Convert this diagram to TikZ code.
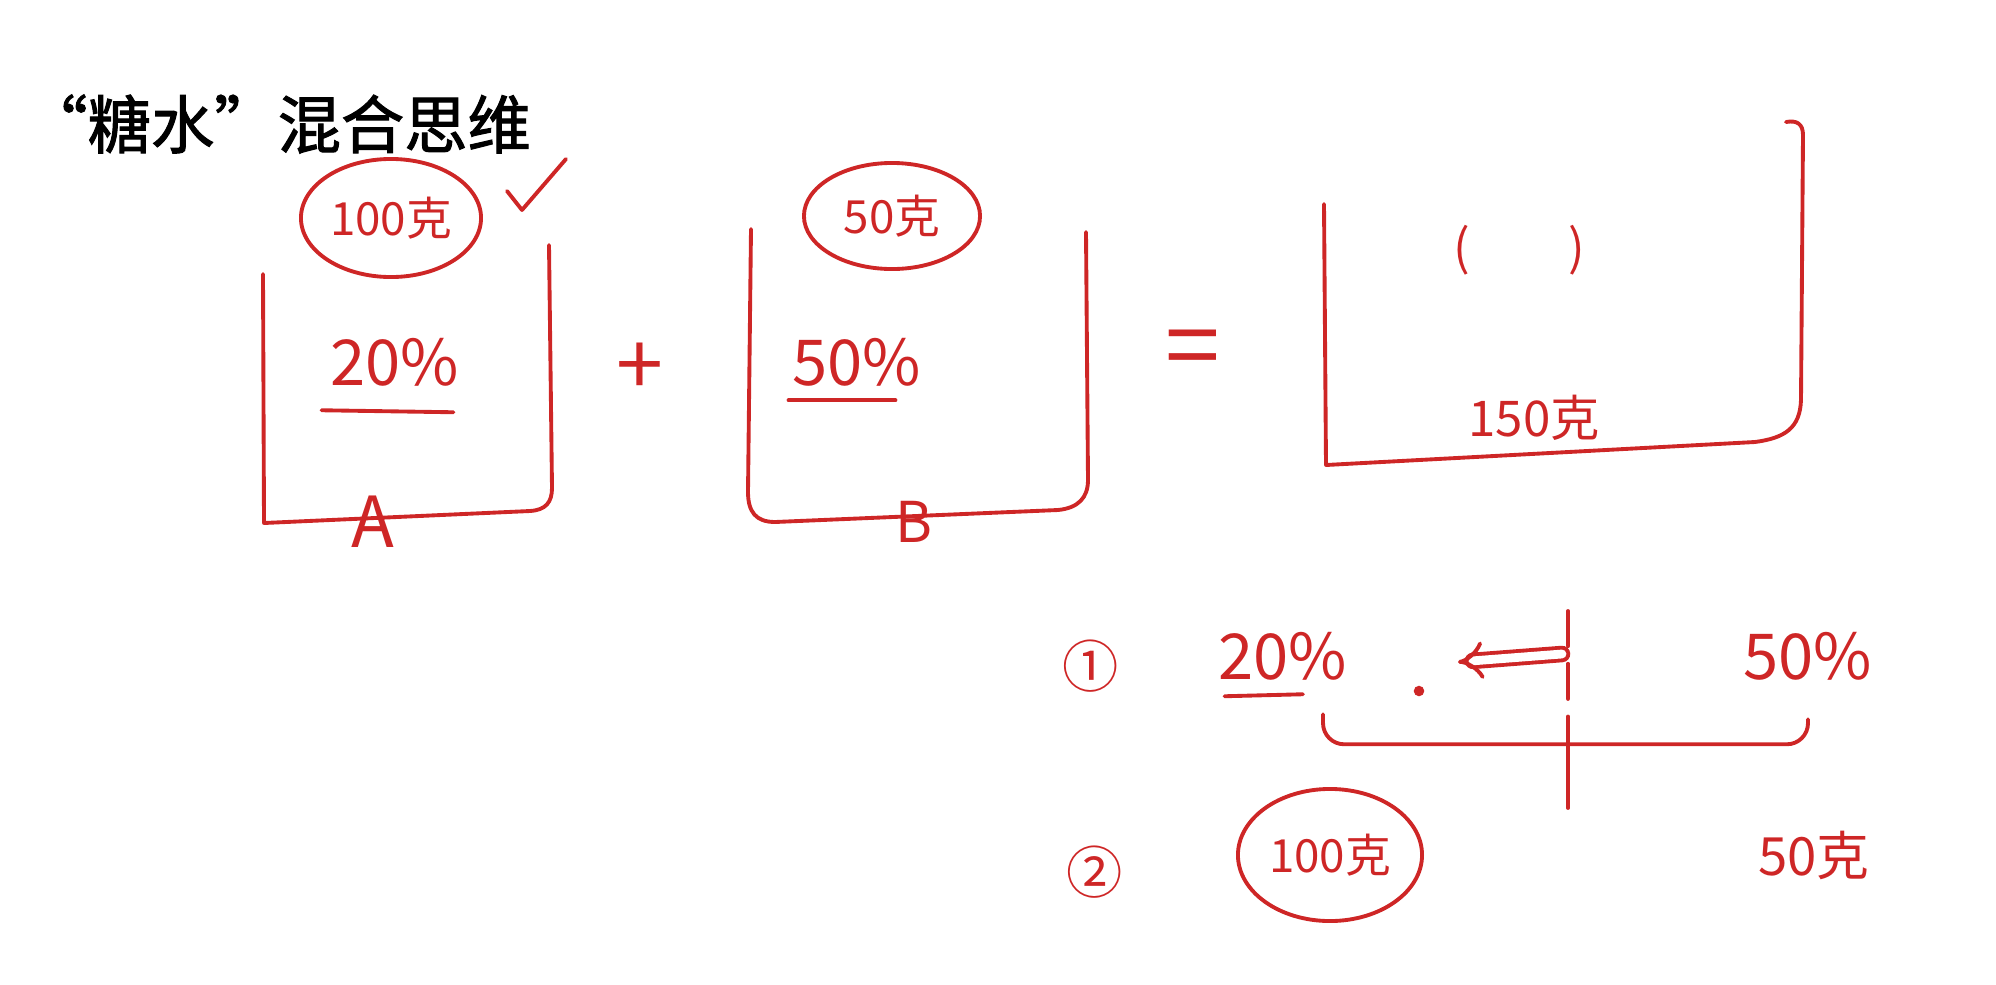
\documentclass[tikz,border=0pt]{standalone}
\usepackage{fontspec}
\newfontfamily\cjk{Noto Sans CJK SC}
\newfontfamily\cjkhead[FakeBold=1.6]{Noto Sans CJK SC}
\usetikzlibrary{arrows.meta,shapes,positioning}
\definecolor{pen}{RGB}{206,38,38}
\tikzset{
  ink/.style={draw=pen, line width=1.1pt, line cap=round, line join=round},
  hand/.style={text=pen, inner sep=1pt, font=\cjk\fontsize{#1}{#1}\selectfont},
  hand/.default=18,
  ring/.style={ellipse, draw=pen, line width=1.1pt, text=pen, inner sep=0pt,
    font=\cjk\fontsize{13}{13}\selectfont}
}

\begin{document}
\begin{tikzpicture}[x=0.01cm,y=-0.01cm]
        \useasboundingbox (0,0) rectangle (1996,984);

        % title
        \node[anchor=west, font=\cjkhead\fontsize{18}{18}\selectfont] (title) at (12,124) {“糖水”混合思维};

        % cup A
        \node[ring, minimum width=1.80cm, minimum height=1.18cm] (ma) at (391,218) {100克};
        \node[hand] (ca) at (395,362) {20\%};
        \node[hand=20] (la) at (373,522) {A};
        \draw[ink] (263,274) -- (264,523) -- (530,511) .. controls (546,510) and (552,502) .. (552,488) -- (549,245);
        \draw[ink] ([xshift=-0.05cm,yshift=-0.2cm]ca.south west) -- ([xshift=-0.1cm,yshift=-0.22cm]ca.south east);
        \draw[ink] (507,191) -- (522,210) -- (566,159);

        % plus
        \node[hand=24] (plus) at (640,369) {+};

        % cup B
        \node[ring, minimum width=1.76cm, minimum height=1.06cm] (mb) at (892,216) {50克};
        \node[hand] (cb) at (857,362) {50\%};
        \node[hand=16] (lb) at (914,522) {B};
        \draw[ink] (751,229) -- (748,492) .. controls (748,512) and (756,522) .. (775,522) -- (1058,510) .. controls (1078,508) and (1088,498) .. (1088,480) -- (1086,232);
        \draw[ink] ([yshift=-0.1cm]cb.south west) -- ([xshift=-0.3cm,yshift=-0.1cm]cb.south east);

        % equals
        \node[hand=28] (eq) at (1193,356) {=};

        % cup C
        \node[hand=14] (mc) at (1519,250) {(\qquad)};
        \node[hand=14] (sc) at (1534,418) {150克};
        \draw[ink] (1324,204) -- (1326,465) -- (1755,442) .. controls (1785,438) and (1800,428) .. (1801,400) -- (1803,135) .. controls (1803,124) and (1797,120) .. (1786,122);

        % step 1
        \node[hand=16] (n1) at (1091,666) {①};
        \node[hand] (p20) at (1283,656) {20\%};
        \node[hand] (p50) at (1808,656) {50\%};
        \draw[ink] ([xshift=0.1cm,yshift=-0.12cm]p20.south west) -- ([xshift=0.2cm,yshift=-0.1cm]p20.south);
        \fill[pen] (1419,691) circle (1.5pt);

        % split line
        \coordinate (top) at (1568,611);
        \coordinate (mid) at (1568,730);
        \coordinate (bot) at (1568,808);
        \draw[ink, dash pattern=on 10pt off 5pt] (top) -- (mid);
        \draw[ink] (mid) -- (bot);
        \coordinate (tail) at (1562,654);
        \coordinate (tip) at (1458,662);
        \draw[ink, double=white, double distance=2.5pt, -{Implies[scale=1.4]}] (tail) -- (tip);

        % bracket
        \draw[ink, rounded corners=6pt] ([xshift=0.4cm,yshift=-0.3cm]p20.south) |- ([yshift=-0.6cm]p50.south) -- ([yshift=-0.35cm]p50.south);

        % step 2
        \node[hand=16] (n2) at (1095,872) {②};
        \node[ring, minimum width=1.84cm, minimum height=1.32cm] (m100) at (1330,855) {100克};
        \node[hand=15] (m50) at (1814,855) {50克};
\end{tikzpicture}
\end{document}
